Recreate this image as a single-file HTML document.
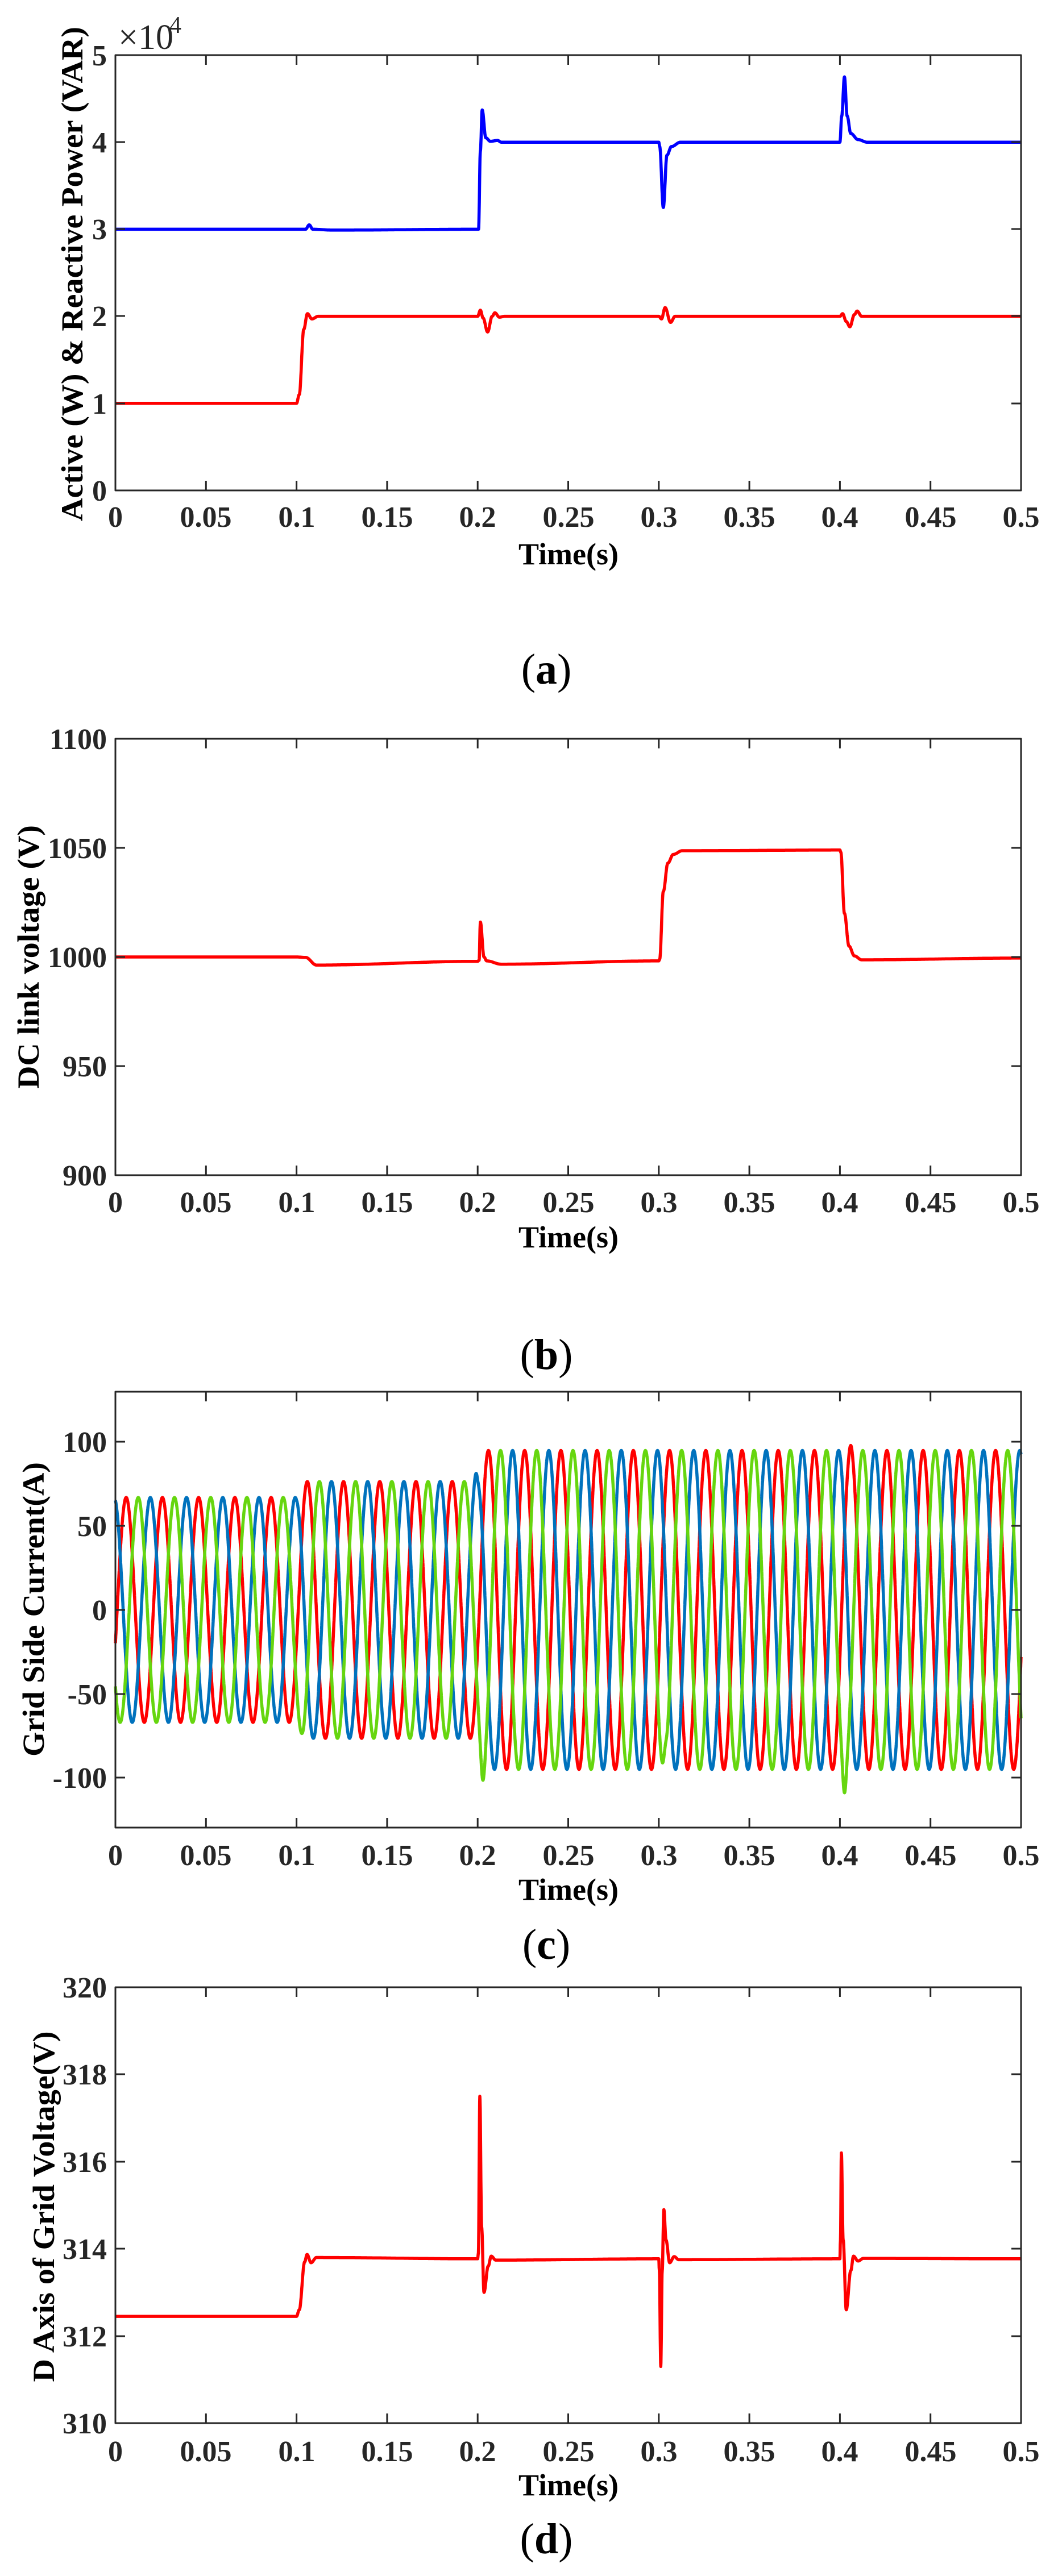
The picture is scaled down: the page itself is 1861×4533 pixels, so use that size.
<!DOCTYPE html>
<html><head><meta charset="utf-8"><style>
html,body{margin:0;padding:0;background:#fff}
svg{display:block}
.t{font-family:"Liberation Serif",serif;font-weight:bold;font-size:52px;fill:#262626}
.xl{text-anchor:middle}
.yl{text-anchor:end}
.lab{font-family:"Liberation Serif",serif;font-weight:bold;font-size:54px;fill:#000;text-anchor:middle}
.cap{font-family:"Liberation Serif",serif;font-size:76px;fill:#000;text-anchor:middle}
</style></head><body>
<svg id="s" width="1861" height="4533" viewBox="0 0 1861 4533" xmlns="http://www.w3.org/2000/svg">
<rect width="1861" height="4533" fill="#fff"/>
<g id="series"></g>
<g id="axes" fill="none" stroke="#262626" stroke-width="3"></g>

<!-- Plot a labels -->
<g class="t yl">
<text x="188" y="115">5</text><text x="188" y="268">4</text><text x="188" y="421">3</text>
<text x="188" y="574">2</text><text x="188" y="728">1</text><text x="188" y="881">0</text>
</g>
<text x="208" y="86" style="font-family:'Liberation Serif',serif;font-size:62px;fill:#262626">×10</text>
<text x="298" y="58" style="font-family:'Liberation Serif',serif;font-size:42px;fill:#262626">4</text>
<g class="t xl" transform="translate(0,927)">
<text x="203">0</text><text x="362">0.05</text><text x="522">0.1</text><text x="681">0.15</text><text x="840">0.2</text><text x="1000">0.25</text><text x="1159">0.3</text><text x="1318">0.35</text><text x="1477">0.4</text><text x="1637">0.45</text><text x="1796">0.5</text>
</g>
<text class="lab" x="1000" y="993">Time(s)</text>
<text class="lab" transform="translate(145,482) rotate(-90)" textLength="870" lengthAdjust="spacingAndGlyphs">Active (W) &amp; Reactive Power (VAR)</text>
<text class="cap" x="961" y="1203">(<tspan font-weight="bold">a</tspan>)</text>

<!-- Plot b labels -->
<g class="t yl">
<text x="188" y="1318">1100</text><text x="188" y="1510">1050</text><text x="188" y="1702">1000</text>
<text x="188" y="1894">950</text><text x="188" y="2086">900</text>
</g>
<g class="t xl" transform="translate(0,2133)">
<text x="203">0</text><text x="362">0.05</text><text x="522">0.1</text><text x="681">0.15</text><text x="840">0.2</text><text x="1000">0.25</text><text x="1159">0.3</text><text x="1318">0.35</text><text x="1477">0.4</text><text x="1637">0.45</text><text x="1796">0.5</text>
</g>
<text class="lab" x="1000" y="2195">Time(s)</text>
<text class="lab" transform="translate(68,1684) rotate(-90)" textLength="464" lengthAdjust="spacingAndGlyphs">DC link voltage (V)</text>
<text class="cap" x="961" y="2409">(<tspan font-weight="bold">b</tspan>)</text>

<!-- Plot c labels -->
<g class="t yl">
<text x="188" y="2555">100</text><text x="188" y="2703">50</text><text x="188" y="2851">0</text>
<text x="188" y="2999">-50</text><text x="188" y="3146">-100</text>
</g>
<g class="t xl" transform="translate(0,3282)">
<text x="203">0</text><text x="362">0.05</text><text x="522">0.1</text><text x="681">0.15</text><text x="840">0.2</text><text x="1000">0.25</text><text x="1159">0.3</text><text x="1318">0.35</text><text x="1477">0.4</text><text x="1637">0.45</text><text x="1796">0.5</text>
</g>
<text class="lab" x="1000" y="3343">Time(s)</text>
<text class="lab" transform="translate(77,2832) rotate(-90)" textLength="518" lengthAdjust="spacingAndGlyphs">Grid Side Current(A)</text>
<text class="cap" x="961" y="3447">(<tspan font-weight="bold">c</tspan>)</text>

<!-- Plot d labels -->
<g class="t yl">
<text x="188" y="3515">320</text><text x="188" y="3668">318</text><text x="188" y="3822">316</text>
<text x="188" y="3975">314</text><text x="188" y="4129">312</text><text x="188" y="4282">310</text>
</g>
<g class="t xl" transform="translate(0,4331)">
<text x="203">0</text><text x="362">0.05</text><text x="522">0.1</text><text x="681">0.15</text><text x="840">0.2</text><text x="1000">0.25</text><text x="1159">0.3</text><text x="1318">0.35</text><text x="1477">0.4</text><text x="1637">0.45</text><text x="1796">0.5</text>
</g>
<text class="lab" x="1000" y="4391">Time(s)</text>
<text class="lab" transform="translate(95,3883) rotate(-90)" textLength="617" lengthAdjust="spacingAndGlyphs">D Axis of Grid Voltage(V)</text>
<text class="cap" x="961" y="4493">(<tspan font-weight="bold">d</tspan>)</text>
</svg>
<script>
(function(){
var NS="http://www.w3.org/2000/svg";
var ser=document.getElementById("series"),ax=document.getElementById("axes");
var L=203,R=1796;
function X(t){return L+t/0.5*(R-L);}
function path(g,d,col,w,extra){var p=document.createElementNS(NS,"path");p.setAttribute("d",d);p.setAttribute("fill","none");p.setAttribute("stroke",col);p.setAttribute("stroke-width",w);p.setAttribute("stroke-linejoin","round");if(extra)p.setAttribute("clip-path",extra);g.appendChild(p);}
function axes(top,bot,yt){
 var d="M"+L+","+top+"H"+R+"V"+bot+"H"+L+"Z";
 for(var i=0;i<=10;i++){var x=(L+i*(R-L)/10).toFixed(1);d+="M"+x+","+bot+"v-17M"+x+","+top+"v17";}
 yt.forEach(function(y){d+="M"+L+","+y+"h17M"+R+","+y+"h-17";});
 path(ax,d,"#262626",3);
}
axes(97,863,[250,403,556,710]);
axes(1300,2068,[1492,1684,1876]);
axes(2449,3216,[2537,2685,2833,2981,3128]);
axes(3497,4264,[3650,3804,3957,4111]);
function interp(k,t){
 if(t<=k[0][0])return k[0][1];
 for(var i=1;i<k.length;i++){if(t<=k[i][0]){var a=k[i-1],b=k[i];var f=(t-a[0])/(b[0]-a[0]);f=(1-Math.cos(Math.PI*f))/2;return a[1]+(b[1]-a[1])*f;}}
 return k[k.length-1][1];
}
function kp(k,Y,col,w){
 var d="";for(var i=0;i<=5000;i++){var t=i*0.0001;d+=(i?"L":"M")+X(t).toFixed(1)+","+Y(interp(k,t)).toFixed(1);}
 path(ser,d,col,w);
}
var Ya=function(v){return 863-v*153.2;};
kp([[0,3],[0.105,3],[0.107,3.05],[0.109,3.0],[0.12,2.99],[0.2,3.0],[0.2005,3.0],[0.2015,3.9],[0.2025,4.37],[0.2045,4.05],[0.207,4.01],[0.211,4.02],[0.213,4.0],[0.3,4.0],[0.3005,3.95],[0.3025,3.25],[0.3045,3.85],[0.307,3.95],[0.312,4.0],[0.4,4.0],[0.401,4.3],[0.4025,4.75],[0.404,4.3],[0.406,4.1],[0.41,4.03],[0.415,4.0],[0.5,4.0]],Ya,"#0000ff",5.5);
kp([[0,1],[0.1,1],[0.1015,1.1],[0.104,1.85],[0.106,2.03],[0.1085,1.97],[0.112,2.0],[0.2,2.0],[0.2015,2.07],[0.203,1.98],[0.2055,1.82],[0.208,2.0],[0.2095,2.04],[0.212,1.99],[0.215,2.0],[0.3,2.0],[0.3015,1.97],[0.3035,2.1],[0.3065,1.93],[0.309,2.0],[0.4,2.0],[0.4015,2.03],[0.4035,1.94],[0.4055,1.88],[0.408,2.02],[0.4095,2.06],[0.412,2.0],[0.5,2.0]],Ya,"#ff0000",5.5);
var Yb=function(v){return 2068-(v-900)/200*768;};
kp([[0,1000],[0.1,1000],[0.105,999.8],[0.111,996.3],[0.2,998],[0.2008,998.5],[0.2015,1016],[0.2035,1000],[0.205,998.2],[0.213,996.7],[0.3,998.2],[0.3005,999],[0.3025,1030],[0.305,1043],[0.308,1047],[0.313,1048.7],[0.4,1049],[0.4005,1048],[0.4025,1020],[0.405,1005],[0.408,1000.5],[0.412,998.7],[0.5,999.5]],Yb,"#ff0000",5.5);
var Yc=function(v){return 2833-v*2.953;};
function amp(t){if(t<0.1)return 67;if(t<0.104)return 67+(76.5-67)*(t-0.1)/0.004;if(t<0.2)return 76.5;if(t<0.204)return 76.5+(95-76.5)*(t-0.2)/0.004;return 95;}
function g(t,c,s){return Math.exp(-Math.pow((t-c)/s,2));}
var cols=["#ff0000","#0072bd","#66d60f"],off=[0,2.0944,-2.0944];
for(var p=0;p<3;p++){
 var d="";for(var i=0;i<=10000;i++){var t=i*0.00005;
  var v=amp(t)*Math.sin(2*Math.PI*50*t-0.3+off[p]);
  if(p==2){v+=-12*g(t,0.2028,0.0012)+10*g(t,0.3035,0.0012)-14*g(t,0.4025,0.0012);}
  if(p==0){v+=3*g(t,0.406,0.0012);}
  if(p==1){v+=5*g(t,0.199,0.0012);}
  d+=(i?"L":"M")+X(t).toFixed(1)+","+Yc(v).toFixed(1);}
 path(ser,d,cols[p],5.5);
}
var Yd=function(v){return 4264-(v-310)/10*767;};
kp([[0,312.45],[0.1,312.45],[0.1015,312.6],[0.1045,313.7],[0.1058,313.87],[0.108,313.68],[0.111,313.8],[0.2,313.77],[0.2004,313.9],[0.2012,317.5],[0.2022,314.5],[0.2035,313.0],[0.2058,313.6],[0.2075,313.83],[0.21,313.74],[0.3,313.77],[0.3003,313.5],[0.3011,311.3],[0.3019,313.5],[0.3028,314.9],[0.304,314.2],[0.306,313.68],[0.3085,313.82],[0.311,313.75],[0.4,313.77],[0.4003,314.2],[0.4008,316.2],[0.4018,314.2],[0.4035,312.6],[0.406,313.5],[0.4075,313.83],[0.41,313.72],[0.413,313.78],[0.5,313.77]],Yd,"#ff0000",5.5);
})();
</script>
</body></html>
